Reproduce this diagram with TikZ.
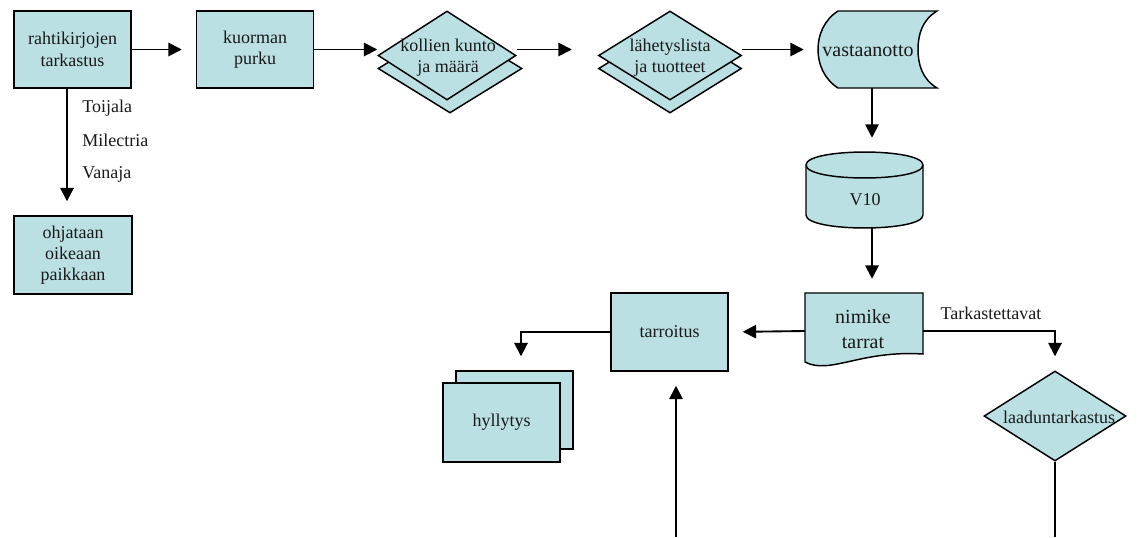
\documentclass[tikz,border=0pt]{standalone}
\usepackage{fontspec}
\setmainfont{Liberation Serif}
\usetikzlibrary{arrows.meta,shapes.geometric,calc}
\definecolor{boxfill}{RGB}{187,224,227}
\begin{document}
\begin{tikzpicture}[x=0.75pt,y=-0.75pt,
  every node/.style={font=\fontsize{13.5pt}{16pt}\selectfont, text=black!90},
  proc/.style={draw, fill=boxfill, line width=1.1pt, minimum width=87.75pt, minimum height=57.75pt, align=center, inner sep=1pt},
  blank/.style={inner sep=0pt, minimum width=#1},
  dec/.style={diamond, draw, fill=boxfill, line width=1.1pt, inner sep=0pt, minimum height=66.75pt},
  shapeline/.style={draw, fill=boxfill, line width=1.1pt},
  flow/.style={line width=1.4pt, -{Triangle[length=10pt,width=10pt]}, shorten >=10.5pt},
  plain/.style={line width=1.4pt},
  lbl/.style={align=center, inner sep=0pt},
  big/.style={font=\fontsize{15pt}{18.75pt}\selectfont}
]
\useasboundingbox (0,0) rectangle (1141,537);

% coordinates for connector columns
\coordinate (c67) at (67,0);
\coordinate (c872) at (872,0);
\coordinate (c521) at (521,0);
\coordinate (bl) at (676,537);
\coordinate (br) at (1055,537);

% top row
\node[proc] (rt) at (72.5,49.5) {rahtikirjojen\\tarkastus};
\node[proc] (kp) at (255,49.5) {kuorman\\purku};
\node[proc, minimum width=88.5pt, minimum height=58.5pt] (oh) at (73,255) {ohjataan\\oikeaan\\paikkaan};

\node[dec, minimum width=108pt] (d1b) at (450,68.5) {};
\node[dec, minimum width=103.5pt] (d1) at (447,55.5) {};
\node[lbl] (d1t) at (448,57.5) {kollien kunto\\ja määrä};

\node[dec, minimum width=107.25pt] (d2b) at (670,68.5) {};
\node[dec, minimum width=107.25pt] (d2) at (670,55.5) {};
\node[lbl] (d2t) at (670,57.5) {lähetyslista\\ja tuotteet};

% vastaanotto (stored data)
\node[blank=89.25pt, minimum height=57.75pt] (vast) at (877.5,49.5) {};
\path[shapeline] (838,11) -- (937,11) .. controls (922,20) and (918,35) .. (918,49.5)
  .. controls (918,64) and (922,79) .. (937,88) -- (838,88)
  .. controls (824,79) and (818,64) .. (818,49.5)
  .. controls (818,35) and (824,20) .. (838,11) -- cycle;
\node[lbl, big] (vastt) at (868,51) {vastaanotto};

% V10 cylinder
\node[blank=87.75pt, minimum height=57pt] (v10) at (864.5,190) {};
\path[shapeline] (806,165) -- (806,215) .. controls (806,232.3) and (923,232.3) .. (923,215)
  -- (923,165) .. controls (923,147.7) and (806,147.7) .. (806,165) -- cycle;
\draw[line width=1.1pt] (806,165) .. controls (806,182.3) and (923,182.3) .. (923,165);
\node[lbl] (v10t) at (865,200) {V10};

% nimike tarrat (document)
\node[blank=88.5pt, minimum height=57pt] (nim) at (864,331) {};
\path[shapeline] (805,293) -- (923,293) -- (923,354)
  .. controls (860,350) and (830,375) .. (805,362) -- cycle;
\node[lbl, big] (nimt) at (863,329.5) {nimike\\tarrat};

% tarroitus and hyllytys
\node[proc, minimum height=58.5pt] (tar) at (669.5,332) {tarroitus};
\node[proc, minimum height=58.5pt] (hyb) at (514.5,410) {};
\node[proc, minimum height=59.25pt] (hyf) at (501.5,422.5) {hyllytys};

% laaduntarkastus
\node[dec, minimum width=106.5pt, minimum height=67.5pt] (laad) at (1055,416) {};
\node[lbl] (laadt) at (1059,417) {laaduntarkastus};

% labels
\node[lbl, anchor=west] (l1) at (82,108) {Toijala};
\node[lbl, anchor=west] (l2) at (82,140) {Milectria};
\node[lbl, anchor=west] (l3) at (82,174) {Vanaja};
\node[lbl] (tk) at (991,313) {Tarkastettavat};

% connectors
\draw[flow] (rt.east) -- (kp.west);
\draw[flow, shorten >=0pt] (kp.east) -- (kp.east -| d1.west);
\draw[flow, shorten >=19.5pt] (d1.east |- kp.east) -- (d2.west |- kp.east);
\draw[flow] (d2.east |- kp.east) -- (vast.west |- kp.east);
\draw[flow] (rt.south -| c67) -- (c67 |- oh.north);
\draw[flow] (vast.south -| c872) -- (c872 |- v10.north);
\draw[flow] (v10.south -| c872) -- (c872 |- nim.north);
\draw[flow] (nim.west) -- (tar.east);
\draw[flow] (tar.west) -| (c521 |- hyb.north);
\draw[flow] (nim.east) -| (laad.north);
\draw[plain] (laad.south) -- (br);
\draw[flow] (bl) -- (bl |- tar.south);
\end{tikzpicture}
\end{document}
